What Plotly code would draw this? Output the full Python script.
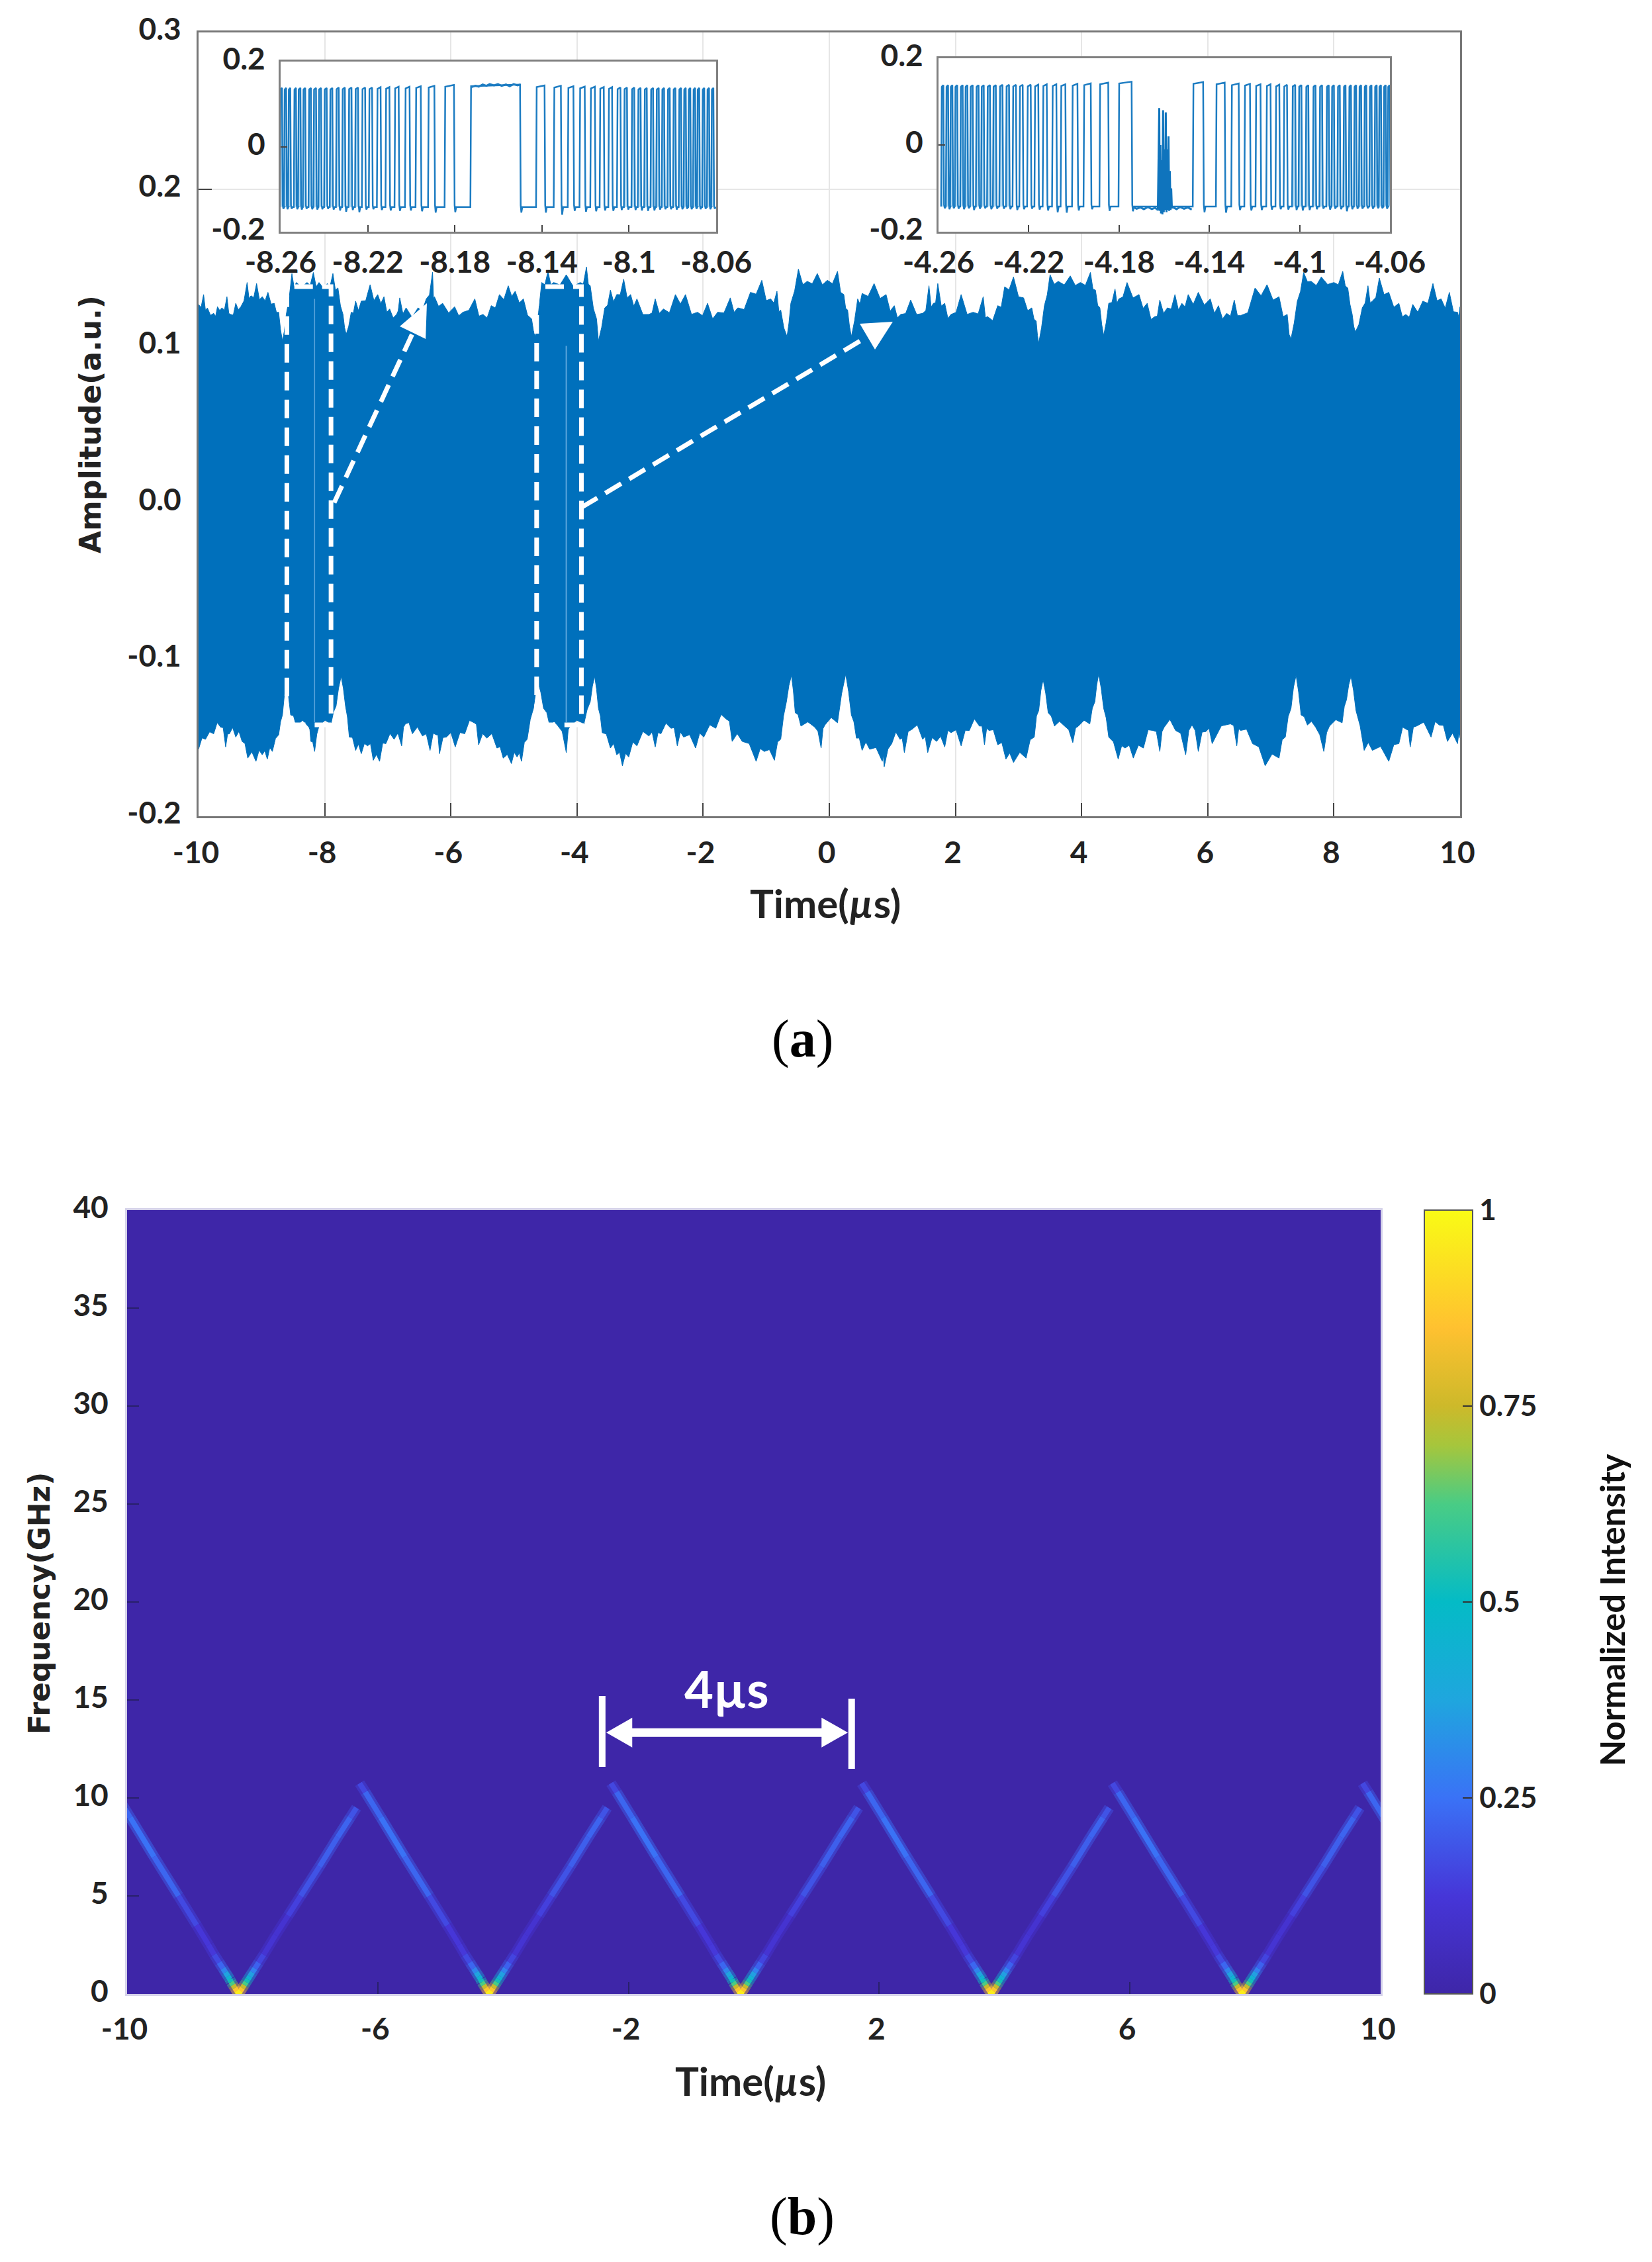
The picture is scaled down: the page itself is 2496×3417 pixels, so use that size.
import plotly.graph_objects as go
from plotly.colors import sample_colorscale

#### Panel (a) envelope of the waveform

upper_t = [-10.0, -9.92, -9.86, -9.76, -9.70, -9.63, -9.55, -9.49, -9.41, -9.33, -9.23, -9.17, -9.08, -8.99, -8.90,
           -8.80, -8.73, -8.67, -8.61, -8.52, -8.45, -8.28, -8.18, -8.09, -7.96, -7.87, -7.79, -7.71, -7.66, -7.58,
           -7.51, -7.42, -7.28, -7.16, -7.06, -6.97, -6.86, -6.81, -6.71, -6.52, -6.39, -6.29, -6.26, -6.13, -5.94,
           -5.81, -5.62, -5.49, -5.36, -5.23, -5.09, -4.98, -4.85, -4.72, -4.66, -4.56, -4.46, -4.37, -4.17, -3.95,
           -3.85, -3.79, -3.69, -3.66, -3.56, -3.47, -3.37, -3.26, -3.15, -3.05, -2.86, -2.76, -2.63, -2.44, -2.28,
           -2.09, -1.93, -1.77, -1.57, -1.45, -1.25, -1.07, -0.93, -0.83, -0.77, -0.67, -0.61, -0.49, -0.35, -0.19,
           -0.03, 0.13, 0.23, 0.29, 0.35, 0.45, 0.52, 0.71, 0.90, 1.03, 1.13, 1.29, 1.48, 1.58, 1.65,
           1.72, 1.83, 1.93, 2.09, 2.28, 2.44, 2.51, 2.67, 2.78, 2.92, 3.08, 3.21, 3.28, 3.32, 3.41,
           3.50, 3.63, 3.82, 3.98, 4.14, 4.22, 4.29, 4.35, 4.43, 4.53, 4.59, 4.72, 4.91, 5.04, 5.16,
           5.24, 5.36, 5.48, 5.59, 5.69, 5.85, 6.04, 6.17, 6.30, 6.42, 6.52, 6.75, 6.94, 7.13, 7.26,
           7.32, 7.42, 7.52, 7.64, 7.80, 8.00, 8.14, 8.22, 8.29, 8.34, 8.45, 8.54, 8.61, 8.72, 8.87,
           9.03, 9.14, 9.25, 9.41, 9.57, 9.70, 9.83, 9.96, 10.0]
upper_a = [.1264, .1328, .1243, .1208, .1250, .1243, .1314, .1201, .1272, .1250, .1405, .1320, .1398, .1314, .1342,
           .1272, .1215, .1032, .1200, .1462, .1405, .1405, .1469, .1405, .1398, .1462, .1370, .1201, .1074, .1215,
           .1286, .1286, .1391, .1328, .1314, .1236, .1201, .1307, .1243, .1243, .1300, .1470, .1314, .1272, .1250,
           .1215, .1300, .1201, .1257, .1328, .1384, .1349, .1300, .1173, .1060, .1405, .1476, .1405, .1454, .1405,
           .1504, .1384, .1173, .1032, .1243, .1356, .1328, .1426, .1328, .1300, .1201, .1300, .1236, .1328, .1328,
           .1215, .1272, .1215, .1307, .1243, .1342, .1419, .1300, .1349, .1229, .1060, .1272, .1490, .1412, .1462,
           .1419, .1476, .1328, .1230, .1060, .1300, .1335, .1398, .1328, .1257, .1201, .1293, .1208, .1384, .1272,
           .1398, .1272, .1201, .1328, .1215, .1314, .1187, .1257, .1377, .1440, .1307, .1243, .1159, .1018, .1257,
           .1455, .1412, .1447, .1405, .1469, .1356, .1243, .1067, .1272, .1363, .1300, .1405, .1328, .1272, .1187,
           .1293, .1243, .1328, .1272, .1328, .1342, .1300, .1257, .1208, .1293, .1194, .1370, .1391, .1314, .1201,
           .1046, .1286, .1469, .1412, .1440, .1405, .1476, .1370, .1201, .1089, .1243, .1384, .1286, .1433, .1342,
           .1272, .1201, .1265, .1286, .1398, .1300, .1342, .1215, .1250]
# how far the edge falls back between two of the points above, in 0.001
upper_notch = [5, 6, 3, 4, 2, 5, 5, 4, 3, 4, 6, 5, 6, 4, 4,
               3, 2, 2, 3, 6, 3, 5, 6, 3, 5, 6, 3, 2, 2, 4,
               6, 5, 7, 5, 6, 4, 3, 7, 6, 5, 6, 9, 4, 5, 4,
               3, 6, 5, 5, 6, 5, 5, 4, 2, 2, 5, 5, 4, 5, 6,
               5, 4, 2, 2, 4, 6, 5, 7, 6, 5, 4, 6, 7, 6, 7,
               5, 7, 5, 6, 6, 5, 7, 5, 7, 3, 2, 3, 6, 4, 5,
               5, 6, 4, 2, 2, 5, 5, 6, 7, 5, 4, 5, 7, 8, 6,
               8, 6, 5, 7, 6, 7, 6, 7, 5, 6, 5, 3, 2, 2, 3,
               4, 4, 4, 5, 5, 4, 2, 2, 4, 6, 4, 6, 6, 6, 5,
               6, 5, 7, 5, 7, 6, 7, 6, 6, 5, 7, 6, 6, 7, 5,
               2, 3, 3, 4, 3, 5, 4, 2, 2, 3, 4, 6, 5, 6, 6,
               5, 5, 6, 7, 6, 8, 6, 5]

lower_t = [-10.0, -9.89, -9.76, -9.65, -9.57, -9.51, -9.41, -9.31, -9.22, -9.09, -8.99, -8.91, -8.83, -8.73, -8.67,
           -8.61, -8.54, -8.45, -8.25, -8.22, -8.16, -8.09, -7.90, -7.82, -7.74, -7.67, -7.61, -7.51, -7.42, -7.32,
           -7.23, -7.13, -7.03, -6.90, -6.78, -6.72, -6.61, -6.45, -6.33, -6.23, -6.18, -6.07, -5.93, -5.78, -5.63,
           -5.56, -5.43, -5.27, -5.17, -5.04, -4.95, -4.88, -4.79, -4.69, -4.62, -4.53, -4.43, -4.30, -4.17, -4.11,
           -3.89, -3.79, -3.72, -3.66, -3.60, -3.47, -3.37, -3.28, -3.18, -3.05, -2.86, -2.76, -2.67, -2.51, -2.41,
           -2.31, -2.12, -1.99, -1.80, -1.63, -1.54, -1.38, -1.16, -1.03, -0.87, -0.77, -0.68, -0.60, -0.54, -0.45,
           -0.23, -0.13, -0.07, 0.13, 0.26, 0.35, 0.43, 0.52, 0.64, 0.84, 0.87, 0.99, 1.12, 1.19, 1.31,
           1.48, 1.56, 1.70, 1.83, 1.93, 2.09, 2.22, 2.38, 2.46, 2.53, 2.67, 2.80, 2.92, 3.12, 3.25,
           3.32, 3.39, 3.47, 3.57, 3.73, 3.86, 3.95, 4.13, 4.21, 4.27, 4.35, 4.43, 4.58, 4.69, 4.82,
           4.98, 5.13, 5.24, 5.31, 5.49, 5.65, 5.75, 5.85, 5.97, 6.07, 6.36, 6.46, 6.52, 6.71, 6.91,
           7.13, 7.23, 7.32, 7.40, 7.48, 7.58, 7.71, 7.84, 7.93, 8.13, 8.20, 8.27, 8.35, 8.48, 8.61,
           8.87, 9.03, 9.15, 9.21, 9.31, 9.54, 9.67, 9.80, 9.96, 10.0]
lower_a = [-.1572, -.1509, -.1474, -.1432, -.1558, -.1474, -.1495, -.1523, -.1629, -.1650, -.1608, -.1636, -.1587, -.1481, -.1354,
           -.1143, -.1354, -.1425, -.1432, -.1523, -.1587, -.1425, -.1411, -.1298, -.1108, -.1298, -.1495, -.1580, -.1601, -.1551,
           -.1643, -.1650, -.1537, -.1509, -.1551, -.1411, -.1474, -.1488, -.1580, -.1481, -.1601, -.1495, -.1558, -.1474, -.1404,
           -.1544, -.1502, -.1565, -.1629, -.1664, -.1622, -.1650, -.1509, -.1312, -.1143, -.1312, -.1425, -.1425, -.1594, -.1425,
           -.1411, -.1270, -.1108, -.1312, -.1467, -.1565, -.1608, -.1678, -.1622, -.1551, -.1488, -.1558, -.1474, -.1439, -.1551,
           -.1495, -.1565, -.1495, -.1439, -.1382, -.1523, -.1523, -.1650, -.1587, -.1643, -.1509, -.1270, -.1101, -.1340, -.1425,
           -.1432, -.1565, -.1418, -.1404, -.1094, -.1354, -.1502, -.1580, -.1573, -.1650, -.1685, -.1537, -.1509, -.1594, -.1446,
           -.1509, -.1594, -.1523, -.1558, -.1467, -.1551, -.1453, -.1425, -.1544, -.1453, -.1544, -.1636, -.1657, -.1629, -.1495,
           -.1326, -.1129, -.1340, -.1425, -.1425, -.1530, -.1425, -.1411, -.1270, -.1094, -.1312, -.1495, -.1636, -.1565, -.1629,
           -.1565, -.1453, -.1587, -.1432, -.1453, -.1608, -.1418, -.1587, -.1460, -.1537, -.1411, -.1551, -.1453, -.1537, -.1678,
           -.1629, -.1495, -.1312, -.1101, -.1354, -.1418, -.1432, -.1587, -.1425, -.1404, -.1256, -.1108, -.1326, -.1580, -.1580,
           -.1650, -.1537, -.1446, -.1558, -.1425, -.1495, -.1418, -.1523, -.1537, -.1500]
lower_notch = [4, 3, 5, 6, 4, 5, 5, 4, 5, 5, 4, 5, 3, 2, 2,
               2, 3, 4, 3, 3, 3, 3, 2, 2, 2, 3, 4, 5, 4, 6,
               4, 6, 5, 6, 5, 4, 5, 6, 6, 6, 5, 6, 5, 5, 6,
               5, 6, 4, 4, 5, 4, 5, 3, 2, 2, 3, 3, 5, 6, 3,
               2, 2, 2, 3, 4, 5, 5, 5, 6, 6, 6, 5, 5, 6, 6,
               5, 6, 5, 6, 6, 5, 5, 5, 4, 5, 3, 2, 2, 3, 3,
               4, 5, 4, 3, 2, 3, 4, 5, 5, 6, 4, 6, 5, 6, 6,
               6, 6, 5, 6, 6, 5, 6, 6, 6, 5, 6, 5, 5, 5, 5,
               3, 2, 2, 3, 3, 4, 3, 3, 2, 2, 3, 4, 5, 5, 5,
               6, 6, 5, 6, 6, 6, 5, 6, 6, 5, 6, 6, 5, 5, 5,
               5, 4, 3, 2, 2, 3, 3, 4, 3, 3, 2, 2, 3, 5, 6,
               5, 6, 5, 6, 6, 6, 5, 6, 5]

amp_ticks = [-0.2, -0.1, 0.0, 0.1, 0.2, 0.3]
amp_ticktext = ['-0.2', '-0.1', '0.0', '0.1', '0.2', '0.3']
time_ticks_a = [-10, -8, -6, -4, -2, 0, 2, 4, 6, 8, 10]
time_ticktext_a = ['-10', '-8', '-6', '-4', '-2', '0', '2', '4', '6', '8', '10']

#### Insets of panel (a): centre, width, top and undershoot of every high pulse

inset1_ticks = [-8.26, -8.22, -8.18, -8.14, -8.1, -8.06]
inset1_c = [-8.2597, -8.2578, -8.2559, -8.2533, -8.2513, -8.2491, -8.2465, -8.2442, -8.2419, -8.2393, -8.2367, -8.2338,
            -8.2310, -8.2280, -8.2250, -8.2218, -8.2186, -8.2148, -8.2108, -8.2066, -8.2017, -8.1967, -8.1907, -8.1824,
            -8.1613,
            -8.1406, -8.1328, -8.1267, -8.1214, -8.1166, -8.1124, -8.1085, -8.1046, -8.1015, -8.0981, -8.0952, -8.0923,
            -8.0894, -8.0868, -8.0843, -8.0817, -8.0791, -8.0765, -8.0743, -8.0722, -8.0700, -8.0681, -8.0658, -8.0636, -8.0616]
inset1_w = [.0010, .0010, .0010, .0010, .0011, .0011, .0011, .0012, .0012, .0012, .0012, .0013,
            .0013, .0014, .0014, .0015, .0015, .0017, .0018, .0019, .0021, .0024, .0029, .0043,
            .0228,
            .0039, .0033, .0026, .0024, .0021, .0019, .0017, .0016, .0014, .0013, .0013, .0012,
            .0012, .0012, .0011, .0011, .0011, .0011, .0010, .0010, .0010, .0010, .0010, .0010, .0010]
inset1_top = [.138, .138, .138, .138, .138, .138, .138, .138, .138, .138, .138, .139,
              .139, .139, .139, .139, .139, .140, .140, .141, .141, .142, .143, .145,
              .146,
              .144, .143, .142, .141, .141, .140, .140, .139, .139, .139, .138, .138,
              .138, .138, .138, .138, .138, .138, .138, .138, .138, .138, .138, .138, .138]
inset1_under = [-.146, -.147, -.146, -.147, -.148, -.146, -.147, -.148, -.147, -.146, -.148, -.150,
                -.153, -.149, -.154, -.148, -.147, -.149, -.150, -.151, -.150, -.152, -.155, -.154,
                -.155,
                -.155, -.160, -.151, -.153, -.152, -.150, -.151, -.149, -.148, -.149, -.150, -.151,
                -.150, -.148, -.147, -.147, -.148, -.147, -.146, -.147, -.146, -.147, -.146, -.147, -.146]
# noisy flat stretches that read as a thick line
inset1_flat_t = [-8.1724, -8.1705, -8.1690, -8.1672, -8.1655, -8.1640, -8.1620, -8.1602, -8.1585, -8.1565, -8.1548, -8.1530, -8.1512, -8.1498]
inset1_flat_a = [.140, .143, .141, .146, .143, .147, .144, .147, .143, .146, .142, .147, .144, .146]

inset2_ticks = [-4.26, -4.22, -4.18, -4.14, -4.1, -4.06]
inset2_c = [-4.2582, -4.2561, -4.2542, -4.2521, -4.2497, -4.2476, -4.2453, -4.2427, -4.2404, -4.2377, -4.2351, -4.2322,
            -4.2293, -4.2263, -4.2233, -4.2198, -4.2165, -4.2128, -4.2086, -4.2047, -4.1995, -4.1940, -4.1866, -4.1772,
            -4.1449, -4.1350, -4.1285, -4.1231, -4.1183, -4.1137, -4.1097, -4.1062, -4.1025, -4.0997, -4.0966, -4.0934,
            -4.0905, -4.0875, -4.0852, -4.0826, -4.0800, -4.0776, -4.0753, -4.0731, -4.0708, -4.0685, -4.0662, -4.0643, -4.0622, -4.0604]
inset2_w = [.0010, .0010, .0010, .0011, .0011, .0011, .0012, .0012, .0012, .0013, .0013, .0014,
            .0014, .0015, .0015, .0016, .0017, .0018, .0019, .0021, .0024, .0032, .0039, .0058,
            .0046, .0039, .0033, .0025, .0022, .0019, .0017, .0015, .0014, .0013, .0012, .0012,
            .0012, .0011, .0011, .0011, .0010, .0010, .0010, .0010, .0010, .0010, .0010, .0010, .0010, .0010]
inset2_top = [.138, .138, .138, .138, .138, .138, .138, .138, .138, .138, .138, .139,
              .139, .139, .139, .139, .139, .140, .140, .140, .141, .142, .144, .146,
              .145, .144, .142, .141, .140, .140, .139, .139, .139, .138, .138, .138,
              .138, .138, .138, .138, .138, .138, .138, .138, .138, .138, .138, .138, .138, .138]
inset2_under = [-.146, -.148, -.146, -.147, -.148, -.146, -.150, -.147, -.146, -.148, -.147, -.147,
                -.148, -.150, -.148, -.147, -.149, -.151, -.155, -.156, -.151, -.148, -.152, -.153,
                -.155, -.156, -.150, -.151, -.150, -.149, -.148, -.149, -.150, -.151, -.150, -.148,
                -.147, -.149, -.147, -.148, -.153, -.148, -.147, -.147, -.146, -.147, -.146, -.146, -.147, -.146]
inset2_flat_t = [-4.1738, -4.1722, -4.1705, -4.1690, -4.1672, -4.1655, -4.1640, -4.1630, -4.1560, -4.1545, -4.1530, -4.1512, -4.1495, -4.1478]
inset2_flat_a = [-.143, -.147, -.144, -.148, -.143, -.148, -.145, -.149, -.144, -.148, -.143, -.147, -.144, -.149]
# the burst in the long low stretch of the second inset
burst_t = [-4.1628, -4.1622, -4.1620, -4.1617, -4.1614, -4.1611, -4.1608, -4.1605, -4.1602, -4.1599, -4.1596, -4.1593,
           -4.1590, -4.1587, -4.1584, -4.1581, -4.1578, -4.1575, -4.1572, -4.1569, -4.1566]
burst_a = [-.148, .085, -.152, .000, -.158, -.035, -.160, .080, -.155, -.010, -.150, .075,
           -.155, -.010, -.150, .020, -.152, -.060, -.150, -.100, -.146]

#### Panel (b)

freq_ticks = [0, 5, 10, 15, 20, 25, 30, 35, 40]
time_ticks_b = [-10, -6, -2, 2, 6, 10]
time_ticktext_b = ['-10', '-6', '-2', '2', '6', '10']
cbar_ticks = [0, 0.25, 0.5, 0.75, 1]
cbar_ticktext = ['0', '0.25', '0.5', '0.75', '1']
parula = [[0, '#3E26A8'], [0.125, '#4636D8'], [0.25, '#3A72F6'], [0.375, '#1FA6DE'], [0.5, '#04BBC6'],
          [0.625, '#49CC85'], [0.7, '#A6C63C'], [0.75, '#CDB92A'], [0.85, '#FFC130'], [1, '#F9FB15']]

# the ridge touches zero at these times and is read once for one period
valley_t = [-8.22, -4.22, -0.21, 3.79, 7.79, 11.78]
rise_dt = [0, .03, .06, .09, .12, .15, .18, .22, .26, .32, .40, .59, .79, .99, 1.29, 1.58, 1.78, 1.88]
rise_f = [0, .15, .3, .45, .6, .75, .9, 1.1, 1.3, 1.6, 2, 3, 4, 5, 6.5, 8, 9, 9.5]
rise_z = [1.0, .92, .80, .68, .57, .48, .40, .32, .25, .18, .13, .09, .12, .17, .20, .22, .22, .15]
fall_dt = [2.07, 1.98, 1.73, 1.35, .96, .67, .48, .39, .31, .25, .21, .17, .14, .12, .09, .06, .03, 0]
fall_f = [10.75, 10.3, 9, 7, 5, 3.5, 2.5, 2, 1.6, 1.3, 1.1, .9, .75, .6, .45, .3, .15, 0]
fall_z = [.12, .20, .25, .25, .20, .13, .12, .14, .19, .26, .33, .41, .48, .57, .68, .80, .92, 1.0]

FONT = 'Lato'
W, H = 2496, 3417
PAGE_MARGIN = 8  # the browser's body margin shifts the whole plot


def dom_x(left, right):
    return [(left - PAGE_MARGIN) / W, (right - PAGE_MARGIN) / W]


def dom_y(top, bottom):
    return [1 - (bottom - PAGE_MARGIN) / H, 1 - (top - PAGE_MARGIN) / H]


def with_notches(ts, values, notch, sign):
    # puts the read notch between each pair of envelope points
    xs, ys = [], []
    for i in range(len(ts) - 1):
        xs += [ts[i], (ts[i] + ts[i + 1]) / 2]
        ys += [values[i], (values[i] + values[i + 1]) / 2 - sign * notch[i] * 0.001]
    xs.append(ts[-1])
    ys.append(values[-1])
    return xs, ys


def pulse_line(centres, widths, tops, unders):
    # square wave through the pulses, low level is -0.142
    xs, ys = [], []
    for c, w, top, under in zip(centres, widths, tops, unders):
        xs += [c - w / 2 - .00015, c - w / 2 + .00015, c + w / 2 - .00015, c + w / 2 + .00015, c + w / 2 + .00045, c + w / 2 + .0009]
        ys += [-.142, top - .004, top, -.138, under, -.142]
    return xs, ys


def pale_pulses(centres, widths):
    # the narrow pulses look washed out in the picture
    xs, ys = [], []
    for c, w in zip(centres, widths):
        if w <= .0014:
            xs += [c - w / 2, c - w / 2, c + w / 2, c + w / 2, None]
            ys += [-.142, .138, .138, -.142, None]
    return xs, ys


fig = go.Figure()

#### Panel (a)

top_x, top_y = with_notches(upper_t, upper_a, upper_notch, 1)
bot_x, bot_y = with_notches(lower_t, lower_a, lower_notch, -1)
fig.add_trace(go.Scatter(x=top_x + bot_x[::-1], y=top_y + bot_y[::-1], mode='lines', fill='toself',
                         fillcolor='#0070BC', line=dict(color='#0070BC', width=1), xaxis='x', yaxis='y',
                         showlegend=False, hoverinfo='skip'))

for axis_x, axis_y, lo, hi, centres, widths, tops, unders in [
        ('x2', 'y2', -8.26, -8.06, inset1_c, inset1_w, inset1_top, inset1_under),
        ('x3', 'y3', -4.26, -4.06, inset2_c, inset2_w, inset2_top, inset2_under)]:
    fig.add_trace(go.Scatter(x=[lo, hi, hi, lo], y=[-0.2, -0.2, 0.2, 0.2], mode='lines', fill='toself',
                             fillcolor='white', line=dict(width=0), xaxis=axis_x, yaxis=axis_y, showlegend=False, hoverinfo='skip'))
    pale_x, pale_y = pale_pulses(centres, widths)
    fig.add_trace(go.Scatter(x=pale_x, y=pale_y, mode='lines', fill='toself', fillcolor='#b5dbf3', line=dict(width=0),
                             xaxis=axis_x, yaxis=axis_y, showlegend=False, hoverinfo='skip'))
    pulse_x, pulse_y = pulse_line(centres, widths, tops, unders)
    fig.add_trace(go.Scatter(x=pulse_x, y=pulse_y, mode='lines', line=dict(color='#1c7cc2', width=2.5), xaxis=axis_x, yaxis=axis_y,
                             showlegend=False, hoverinfo='skip'))
fig.add_trace(go.Scatter(x=inset1_flat_t, y=inset1_flat_a, mode='lines', line=dict(color='#1c7cc2', width=3), xaxis='x2', yaxis='y2',
                         showlegend=False, hoverinfo='skip'))
fig.add_trace(go.Scatter(x=inset2_flat_t, y=inset2_flat_a, mode='lines', line=dict(color='#1c7cc2', width=3), xaxis='x3', yaxis='y3',
                         showlegend=False, hoverinfo='skip'))
fig.add_trace(go.Scatter(x=burst_t, y=burst_a, mode='lines', line=dict(color='#0f74bd', width=3), xaxis='x3', yaxis='y3',
                         showlegend=False, hoverinfo='skip'))

#### Panel (b)

fig.add_trace(go.Heatmap(x=[-10, 10], y=[0, 40], z=[[0, 0], [0, 0]], zmin=0, zmax=1, colorscale=parula, xaxis='x4', yaxis='y4',
                         hoverinfo='skip',
                         colorbar=dict(x=(2152 - PAGE_MARGIN) / W, xanchor='left', xpad=0, thickness=73, thicknessmode='pixels',
                                       y=1 - (3012 - PAGE_MARGIN) / H, yanchor='bottom', ypad=0, len=1184 / H, lenmode='fraction',
                                       tickvals=cbar_ticks, ticktext=cbar_ticktext, ticks='inside', ticklen=16,
                                       tickcolor='#333333', tickwidth=2, outlinecolor='#555555', outlinewidth=2,
                                       tickfont=dict(family=FONT, size=44, weight=700, color='#222222'))))

# one trace per segment index so the colour can change along the ridge
for layer_width, opacity in [(16, 0.45), (8, 1.0)]:
    for k in range(len(rise_z) - 1):
        xs, ys = [], []
        for v in valley_t:
            xs += [v + rise_dt[k], v + rise_dt[k + 1], None]
            ys += [rise_f[k], rise_f[k + 1], None]
        colour = sample_colorscale(parula, [(rise_z[k] + rise_z[k + 1]) / 2])[0]
        fig.add_trace(go.Scatter(x=xs, y=ys, mode='lines', line=dict(color=colour, width=layer_width), opacity=opacity,
                                 xaxis='x4', yaxis='y4', showlegend=False, hoverinfo='skip'))
    for k in range(len(fall_z) - 1):
        xs, ys = [], []
        for v in valley_t:
            xs += [v - fall_dt[k], v - fall_dt[k + 1], None]
            ys += [fall_f[k], fall_f[k + 1], None]
        colour = sample_colorscale(parula, [(fall_z[k] + fall_z[k + 1]) / 2])[0]
        fig.add_trace(go.Scatter(x=xs, y=ys, mode='lines', line=dict(color=colour, width=layer_width), opacity=opacity,
                                 xaxis='x4', yaxis='y4', showlegend=False, hoverinfo='skip'))

#### Axes

tick_font = dict(family=FONT, size=46, weight=700, color='#222222')
main_axis = dict(showline=True, linecolor='#777777', linewidth=3, mirror=True, ticks='inside', ticklen=20, tickwidth=2,
                 tickcolor='#444444', tickfont=tick_font, zeroline=False, layer='below traces')
inset_axis = dict(showline=True, linecolor='#808080', linewidth=3, mirror=True, ticks='inside', ticklen=10, tickwidth=2,
                  tickcolor='#444444', tickfont=tick_font, zeroline=False, showgrid=False, layer='above traces')
map_axis = dict(showline=True, linecolor='#d5d2ea', linewidth=3, mirror=True, ticks='inside', ticklen=18, tickwidth=2,
                tickcolor='#29206b', tickfont=tick_font, zeroline=False, showgrid=False, layer='above traces')

fig.update_layout(
    width=W, height=H, margin=dict(l=0, r=0, t=0, b=0, autoexpand=False), paper_bgcolor='white', plot_bgcolor='white', showlegend=False,
    xaxis=dict(main_axis, domain=dom_x(300, 2206), range=[-10, 10], tickvals=time_ticks_a, ticktext=time_ticktext_a, anchor='y', showgrid=True,
               gridcolor='#e6e6e6', gridwidth=2, ticklabelstandoff=13, ticklabelshift=-4),
    yaxis=dict(main_axis, domain=dom_y(49, 1233), range=[-0.2, 0.3], tickvals=amp_ticks, ticktext=amp_ticktext, anchor='x',
               showgrid=True, gridcolor='#e6e6e6', gridwidth=2, ticklabelstandoff=14, ticklabelshift=-5),
    xaxis2=dict(inset_axis, domain=dom_x(424, 1082), range=[-8.26, -8.06], tickvals=inset1_ticks, ticktext=['-8.26', '-8.22', '-8.18', '-8.14', '-8.1', '-8.06'],
                anchor='y2', ticklabelstandoff=4),
    yaxis2=dict(inset_axis, domain=dom_y(93, 350), range=[-0.2, 0.2], tickvals=[-0.2, 0, 0.2], ticktext=['-0.2', '0', '0.2'],
                anchor='x2', ticklabelstandoff=11, ticklabelshift=-4),
    xaxis3=dict(inset_axis, domain=dom_x(1418, 2100), range=[-4.26, -4.06], tickvals=inset2_ticks, ticktext=['-4.26', '-4.22', '-4.18', '-4.14', '-4.1', '-4.06'],
                anchor='y3', ticklabelstandoff=4),
    yaxis3=dict(inset_axis, domain=dom_y(88, 350), range=[-0.2, 0.2], tickvals=[-0.2, 0, 0.2], ticktext=['-0.2', '0', '0.2'],
                anchor='x3', ticklabelstandoff=11, ticklabelshift=-4),
    xaxis4=dict(map_axis, domain=dom_x(192, 2086), range=[-10, 10], tickvals=time_ticks_b, ticktext=time_ticktext_b, anchor='y4',
                ticklabelstandoff=11, ticklabelshift=-4),
    yaxis4=dict(map_axis, domain=dom_y(1828, 3012), range=[0, 40], tickvals=freq_ticks, anchor='x4', ticklabelstandoff=16, ticklabelshift=-4),
)

#### White marks drawn on top of the data

dash = '28px,14px'
white_dash = dict(color='white', width=7, dash=dash)
shapes = [
    dict(type='rect', xref='x', yref='y', x0=-8.60, x1=-7.90, y0=-0.1417, y1=0.1378, line=white_dash),
    dict(type='rect', xref='x', yref='y', x0=-4.64, x1=-3.93, y0=-0.1417, y1=0.1378, line=white_dash),
    dict(type='line', xref='x', yref='y', x0=-7.85, y0=0.0, x1=-6.59, y1=0.1095, line=white_dash),
    dict(type='line', xref='x', yref='y', x0=-3.93, y0=-0.003, x1=0.49, y1=0.1032, line=white_dash),
    dict(type='path', xref='x', yref='y', path='M -6.81 .1125 L -6.40 .1045 L -6.38 .1273 Z', fillcolor='white', line=dict(width=0)),
    dict(type='path', xref='x', yref='y', path='M .483 .1142 L 1.007 .1155 L .724 .0977 Z', fillcolor='white', line=dict(width=0)),
    dict(type='line', xref='x', yref='y', x0=-8.16, x1=-8.16, y0=-0.14, y1=0.13, line=dict(color='#5aa5dc', width=1.5)),
    dict(type='line', xref='x', yref='y', x0=-4.17, x1=-4.17, y0=-0.14, y1=0.10, line=dict(color='#5aa5dc', width=2)),
    # the 4 microsecond marker
    dict(type='line', xref='x4', yref='y4', x0=-2.42, x1=-2.42, y0=11.59, y1=15.2, line=dict(color='white', width=10)),
    dict(type='line', xref='x4', yref='y4', x0=1.56, x1=1.56, y0=11.49, y1=15.07, line=dict(color='white', width=10)),
    dict(type='line', xref='x4', yref='y4', x0=-2.0, x1=1.1, y0=13.34, y1=13.34, line=dict(color='white', width=13)),
    dict(type='path', xref='x4', yref='y4', path='M -2.355 13.34 L -1.94 14.1 L -1.94 12.58 Z', fillcolor='white', line=dict(width=0)),
    dict(type='path', xref='x4', yref='y4', path='M 1.50 13.34 L 1.08 14.1 L 1.08 12.58 Z', fillcolor='white', line=dict(width=0)),
]
fig.update_layout(shapes=shapes)

notes = [
    dict(text='<b>Amplitude(a.u.)</b>', px=137, py=641, size=44, family='DejaVu Sans', angle=-90, colour='#222222'),
    dict(text='<b>Time(<i>\u00b5</i>s)</b>', px=1247, py=1364, size=60, family=FONT, angle=0, colour='#222222'),
    dict(text='<b>Frequency(GHz)</b>', px=59, py=2422, size=44, family='DejaVu Sans', angle=-90, colour='#222222'),
    dict(text='<b>Time(<i>\u00b5</i>s)</b>', px=1134, py=3143, size=60, family=FONT, angle=0, colour='#222222'),
    dict(text='<b>Normalized Intensity</b>', px=2435, py=2432, size=51, family=FONT, angle=-90, colour='#111111'),
    dict(text='<b>4\u00b5s</b>', px=1098, py=2550, size=76, family=FONT, angle=0, colour='white'),
    dict(text='(<b>a</b>)', px=1212, py=1570, size=80, family='Liberation Serif', angle=0, colour='black'),
    dict(text='(<b>b</b>)', px=1212, py=3348, size=80, family='Liberation Serif', angle=0, colour='black'),
]
for n in notes:
    fig.add_annotation(text=n['text'], x=(n['px'] - PAGE_MARGIN) / W, y=1 - (n['py'] - PAGE_MARGIN) / H, xref='paper', yref='paper',
                       showarrow=False, textangle=n['angle'], xanchor='center', yanchor='middle',
                       font=dict(family=n['family'], size=n['size'], color=n['colour']))

fig.write_html("out.html")
